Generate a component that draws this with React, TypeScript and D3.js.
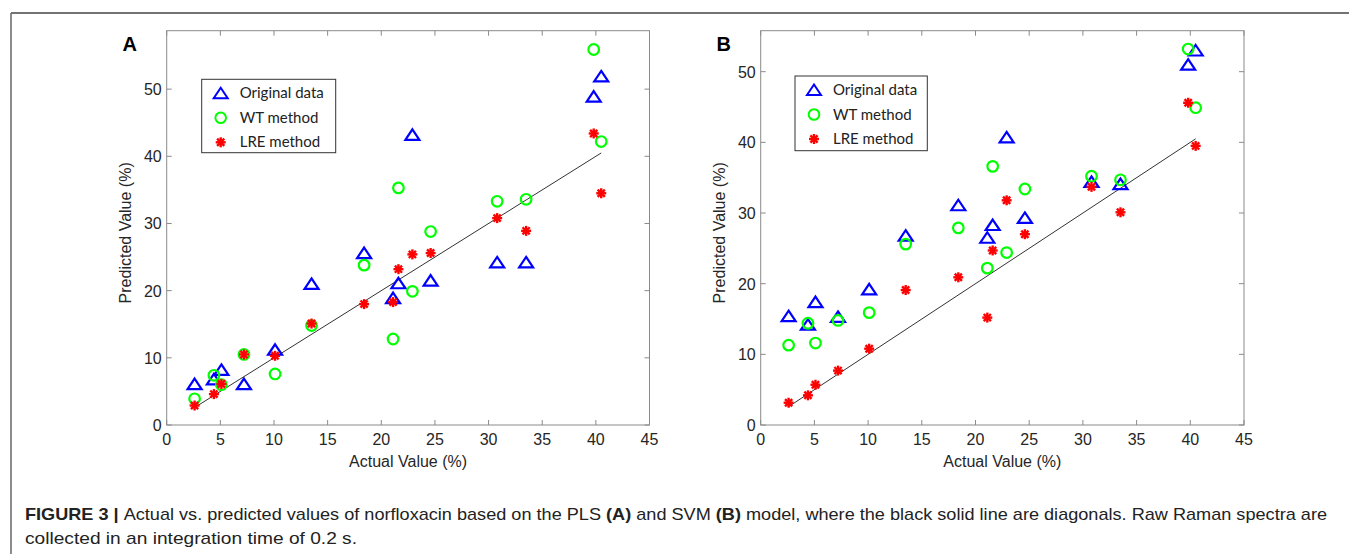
import React from 'react';
import * as d3 from 'd3';

// actual concentrations (shared by both panels)
const actual = [2.6, 4.4, 5.1, 7.2, 10.1, 13.5, 18.4, 21.1, 21.6, 22.9, 24.6, 30.8, 33.5, 39.8, 40.5];

// panel A - PLS model
const plsOriginal = [6.1, 6.8, 8.2, 6.1, 11.2, 21.0, 25.6, 18.9, 21.1, 43.2, 21.5, 24.2, 24.2, 48.9, 51.9];
const plsWT = [3.9, 7.4, 6.0, 10.5, 7.6, 14.8, 23.8, 12.8, 35.3, 19.9, 28.8, 33.3, 33.6, 55.9, 42.2];
const plsLRE = [2.9, 4.6, 6.1, 10.5, 10.3, 15.1, 18.0, 18.3, 23.2, 25.4, 25.6, 30.8, 28.9, 43.4, 34.5];

// panel B - SVM model
const svmOriginal = [15.4, 14.2, 17.4, 15.3, 19.2, 26.8, 31.1, 26.5, 28.3, 40.7, 29.3, 34.4, 34.1, 51.0, 53.0];
const svmWT = [11.3, 14.4, 11.6, 14.8, 15.9, 25.6, 27.9, 22.2, 36.6, 24.4, 33.4, 35.2, 34.7, 53.2, 44.9];
const svmLRE = [3.15, 4.2, 5.7, 7.7, 10.8, 19.1, 20.9, 15.2, 24.7, 31.8, 27.0, 33.7, 30.1, 45.6, 39.5];

const xTicks = [0, 5, 10, 15, 20, 25, 30, 35, 40, 45];
const yTicks = [0, 10, 20, 30, 40, 50];
const legendLabels = ['Original data', 'WT method', 'LRE method'];

const AXIS = '#8a8a8a';
const TXT = '#262626';
const FONT = '"Liberation Sans", Arial, sans-serif';

const tri = 'M0,-5.5L7,5L-7,5Z';

function Star({ x, y }) {
  const r = 5;
  const d = r * 0.72;
  return (
    <g transform={`translate(${x},${y})`} stroke="#ff0000" strokeWidth={2.4}>
      <line x1={-r} y1={0} x2={r} y2={0} />
      <line x1={0} y1={-r} x2={0} y2={r} />
      <line x1={-d} y1={-d} x2={d} y2={d} />
      <line x1={-d} y1={d} x2={d} y2={-d} />
    </g>
  );
}

function Panel({ letter, x0, x1, yMax, orig, wt, lre, legend }) {
  const top = 30.7, bottom = 425;
  const x = d3.scaleLinear().domain([0, 45]).range([x0, x1]);
  const y = d3.scaleLinear().domain([0, yMax]).range([bottom, top]);
  const lo = d3.min(actual), hi = d3.max(actual);
  const tk = 5;

  return (
    <g>
      <text x={x0 - 37} y={51} fontFamily={FONT} fontWeight="bold" fontSize={20} fill="#000" textAnchor="middle">{letter}</text>

      <rect x={x0} y={top} width={x1 - x0} height={bottom - top} fill="none" stroke={AXIS} strokeWidth={1} />
      {xTicks.map(t => (
        <g key={'x' + t}>
          <line x1={x(t)} x2={x(t)} y1={bottom} y2={bottom - tk} stroke={AXIS} />
          <line x1={x(t)} x2={x(t)} y1={top} y2={top + tk} stroke={AXIS} />
          <text x={x(t)} y={445} textAnchor="middle" fontFamily={FONT} fontSize={16} fill={TXT}>{t}</text>
        </g>
      ))}
      {yTicks.map(t => (
        <g key={'y' + t}>
          <line x1={x0} x2={x0 + tk} y1={y(t)} y2={y(t)} stroke={AXIS} />
          <line x1={x1} x2={x1 - tk} y1={y(t)} y2={y(t)} stroke={AXIS} />
          <text x={x0 - 5} y={y(t) + 6} textAnchor="end" fontFamily={FONT} fontSize={16} fill={TXT}>{t}</text>
        </g>
      ))}
      <text x={(x0 + x1) / 2} y={467} textAnchor="middle" fontFamily={FONT} fontSize={16} fill={TXT}>Actual Value (%)</text>
      <text transform={`translate(${x0 - 36},${(top + bottom) / 2 + 5}) rotate(-90)`} textAnchor="middle" fontFamily={FONT} fontSize={16} fill={TXT}>Predicted Value (%)</text>

      <line x1={x(lo)} y1={y(lo)} x2={x(hi)} y2={y(hi)} stroke="#333" strokeWidth={1} />

      {actual.map((a, i) => (
        <path key={'o' + i} d={tri} transform={`translate(${x(a)},${y(orig[i])})`} fill="none" stroke="#0000ff" strokeWidth={2.2} />
      ))}
      {actual.map((a, i) => (
        <circle key={'w' + i} cx={x(a)} cy={y(wt[i])} r={5.3} fill="none" stroke="#00ff00" strokeWidth={2.2} />
      ))}
      {actual.map((a, i) => (
        <Star key={'l' + i} x={x(a)} y={y(lre[i])} />
      ))}

      <g>
        <rect x={legend.x} y={legend.y} width={legend.w} height={legend.h} fill="#fff" stroke="#333" strokeWidth={1} />
        {legendLabels.map((lab, i) => {
          const cy = legend.y + 14 + i * 24.5;
          const mx = legend.x + 19;
          return (
            <g key={lab}>
              {i === 0 && <path d={tri} transform={`translate(${mx},${cy})`} fill="none" stroke="#0000ff" strokeWidth={2} />}
              {i === 1 && <circle cx={mx} cy={cy} r={5.3} fill="none" stroke="#00ff00" strokeWidth={2} />}
              {i === 2 && <Star x={mx} y={cy} />}
              <text x={legend.x + 38} y={cy + 5} fontFamily="Lato, sans-serif" fontSize={15} fill="#222">{lab}</text>
            </g>
          );
        })}
      </g>
    </g>
  );
}

export default function App() {
  return (
    <svg width={1349} height={554} style={{ position: 'absolute', left: 0, top: 0, display: 'block', background: '#fff' }}>
      <line x1={11} y1={13} x2={1349} y2={13} stroke="#444" strokeWidth={1.5} />
      <line x1={11} y1={13} x2={11} y2={554} stroke="#666" strokeWidth={1.5} />

      <Panel letter="A" x0={166.7} x1={649.5} yMax={58.7} orig={plsOriginal} wt={plsWT} lre={plsLRE}
        legend={{ x: 201.7, y: 79.3, w: 134, h: 73.4 }} />
      <Panel letter="B" x0={760.7} x1={1244} yMax={55.8} orig={svmOriginal} wt={svmWT} lre={svmLRE}
        legend={{ x: 795, y: 76, w: 132.3, h: 74.7 }} />

      <text x={25} y={520} fontFamily={FONT} fontSize={17} fill="#222" textLength={1302} lengthAdjust="spacingAndGlyphs">
        <tspan fontWeight="bold">FIGURE 3 | </tspan>
        <tspan>Actual vs. predicted values of norfloxacin based on the PLS </tspan>
        <tspan fontWeight="bold">(A)</tspan>
        <tspan> and SVM </tspan>
        <tspan fontWeight="bold">(B)</tspan>
        <tspan> model, where the black solid line are diagonals. Raw Raman spectra are</tspan>
      </text>
      <text x={25} y={544} fontFamily={FONT} fontSize={17} fill="#222" textLength={332} lengthAdjust="spacingAndGlyphs">
        collected in an integration time of 0.2 s.
      </text>
    </svg>
  );
}
